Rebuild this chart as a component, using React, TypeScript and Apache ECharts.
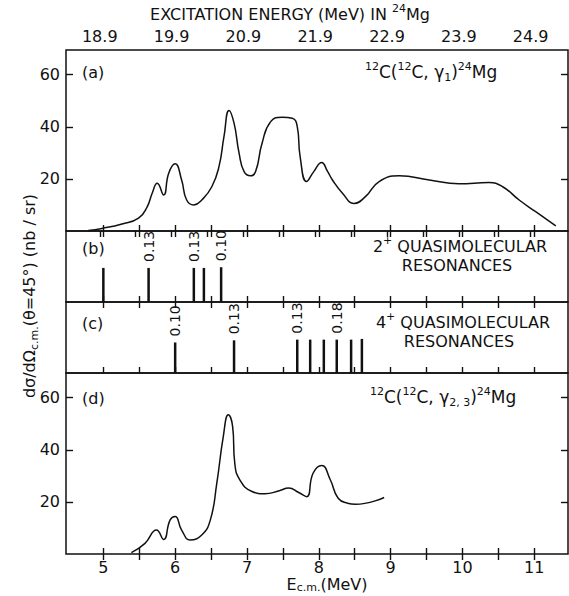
import React, { useEffect, useRef } from "react";
import * as echarts from "echarts";

// ---- axis ticks / labels ----
const ecmTicks = [5, 5.5, 6, 6.5, 7, 7.5, 8, 8.5, 9, 9.5, 10, 10.5, 11];
const ecmLabels = [5, 6, 7, 8, 9, 10, 11];
const excTicks = [18.9, 19.4, 19.9, 20.4, 20.9, 21.4, 21.9, 22.4, 22.9, 23.4, 23.9, 24.4, 24.9];
const excLabels = [18.9, 19.9, 20.9, 21.9, 22.9, 23.9, 24.9];
const yTicks = [20, 40, 60];

// ---- (a) 12C(12C,γ1)24Mg ----
const gamma1X = [4.79, 4.98, 5.26, 5.49, 5.61, 5.68, 5.75, 5.84, 5.91, 6.0, 6.09, 6.16, 6.26, 6.37, 6.51, 6.61, 6.68, 6.75, 6.82, 6.89, 6.96, 7.05, 7.12, 7.21, 7.33, 7.49, 7.63, 7.7, 7.74, 7.83, 7.93, 8.04, 8.12, 8.19, 8.33, 8.49, 8.65, 8.84, 9.12, 9.54, 9.95, 10.37, 10.56, 10.79, 11.02, 11.3];
const gamma1Y = [0.2, 1.0, 2.7, 4.9, 9.3, 14.5, 18.3, 13.8, 22.2, 25.8, 19.6, 11.9, 10.0, 11.9, 17.0, 24.7, 36.3, 46.3, 41.4, 29.9, 22.8, 21.2, 22.8, 33.7, 42.0, 43.7, 43.3, 40.1, 28.6, 19.0, 22.8, 26.3, 23.0, 19.6, 14.5, 10.6, 13.2, 19.0, 21.2, 19.6, 18.1, 18.6, 17.0, 11.9, 7.4, 2.0];

// ---- (b) 2+ quasimolecular resonances ----
const res2X = [5.0, 5.63, 6.26, 6.4, 6.64];
const res2H = [0.48, 0.48, 0.48, 0.48, 0.49];
const res2Labels = ["", "0.13", "0.13", "", "0.10"];

// ---- (c) 4+ quasimolecular resonances ----
const res4X = [6.0, 6.82, 7.7, 7.88, 8.07, 8.25, 8.45, 8.6];
const res4H = [0.43, 0.46, 0.47, 0.47, 0.47, 0.47, 0.47, 0.48];
const res4Labels = ["0.10", "0.13", "0.13", "", "", "0.18", "", ""];

// ---- (d) 12C(12C,γ2,3)24Mg ----
const gamma23X = [5.39, 5.58, 5.74, 5.84, 5.93, 6.0, 6.09, 6.21, 6.37, 6.49, 6.58, 6.67, 6.74, 6.8, 6.83, 6.9, 7.07, 7.25, 7.45, 7.58, 7.72, 7.83, 7.92, 8.04, 8.16, 8.27, 8.4, 8.51, 8.91];
const gamma23Y = [0.5, 4.1, 9.2, 5.6, 13.1, 14.4, 9.2, 5.4, 7.3, 13.1, 27.2, 45.1, 53.5, 49.0, 34.9, 28.5, 24.0, 23.1, 24.3, 25.3, 23.6, 22.0, 31.0, 34.0, 28.5, 21.4, 19.5, 19.1, 21.7];

const X_MIN = 4.48;
const X_MAX = 11.47;
const Y_MAX = 69.5;
const EXC_OFFSET = 13.95;
const FONT = "DejaVu Sans";
const INK = "#111";

const GRID_LEFT = 66;
const GRID_W = 502;
const grids = [
  { top: 50, height: 181 },
  { top: 231, height: 71 },
  { top: 302, height: 71 },
  { top: 373, height: 181 },
];

const tickLine = { color: INK, width: 1.4 };

function xAxisDef(gridIndex: number, position: string, opts: any = {}) {
  const offset = opts.offset || 0;
  return {
    type: "value",
    gridIndex,
    position,
    min: X_MIN + offset,
    max: X_MAX + offset,
    axisLine: { show: false },
    splitLine: { show: false },
    axisTick: {
      show: true,
      inside: true,
      length: 6,
      lineStyle: tickLine,
      customValues: opts.ticks || ecmTicks,
    },
    axisLabel: opts.labels
      ? {
          show: true,
          customValues: opts.labels,
          fontSize: 16,
          fontFamily: FONT,
          color: INK,
          margin: opts.margin ?? 5,
          formatter: opts.formatter,
        }
      : { show: false },
  };
}

function yAxisDef(gridIndex: number, position: string, withLabels: boolean) {
  return {
    type: "value",
    gridIndex,
    position,
    min: 0,
    max: Y_MAX,
    axisLine: { show: false },
    splitLine: { show: false },
    axisTick: { show: true, inside: true, length: 7, lineStyle: tickLine, customValues: yTicks },
    axisLabel: withLabels
      ? { show: true, customValues: yTicks, fontSize: 16, fontFamily: FONT, color: INK, margin: 6 }
      : { show: false },
  };
}

const rich = {
  sup: { fontSize: 11, lineHeight: 11, verticalAlign: "top", fontFamily: FONT, fill: INK },
  sub: { fontSize: 11, lineHeight: 11, verticalAlign: "bottom", fontFamily: FONT, fill: INK },
};

function txt(text: string, x: number, y: number, size: number, align = "left", extra: any = {}, lh = 22) {
  return {
    type: "text",
    x,
    y,
    ...extra,
    style: {
      text,
      fontSize: size,
      fontFamily: FONT,
      fill: INK,
      align,
      verticalAlign: "middle",
      lineHeight: lh,
      rich,
    },
  };
}

function spikeSeries(xs: number[], hs: number[], labels: string[], xi: number, yi: number) {
  return {
    type: "bar",
    xAxisIndex: xi,
    yAxisIndex: yi,
    barWidth: 2.5,
    itemStyle: { color: INK },
    data: xs.map((x, i) => [x, hs[i]]),
    label: {
      show: true,
      position: "top",
      distance: 6,
      rotate: 90,
      align: "left",
      verticalAlign: "middle",
      fontSize: 14,
      fontFamily: FONT,
      color: INK,
      formatter: (p: any) => labels[p.dataIndex],
    },
  };
}

function curveSeries(xs: number[], ys: number[], xi: number, yi: number) {
  return {
    type: "line",
    xAxisIndex: xi,
    yAxisIndex: yi,
    data: xs.map((x, i) => [x, ys[i]]),
    smooth: 0.5,
    symbol: "none",
    lineStyle: { color: INK, width: 1.5 },
  };
}

export default function App() {
  const ref = useRef<HTMLDivElement>(null);
  useEffect(() => {
    if (!ref.current) return;
    const chart = echarts.init(ref.current, null, { renderer: "svg" });
    const option: any = {
      animation: false,
      backgroundColor: "#fff",
      grid: grids.map((g) => ({
        left: GRID_LEFT,
        width: GRID_W,
        top: g.top,
        height: g.height,
        show: true,
        borderColor: INK,
        borderWidth: 1.5,
        backgroundColor: "transparent",
      })),
      xAxis: [
        xAxisDef(0, "bottom"),
        xAxisDef(0, "top", {
          offset: EXC_OFFSET,
          ticks: excTicks,
          labels: excLabels,
          margin: 6,
          formatter: (v: number) => v.toFixed(1),
        }),
        xAxisDef(1, "bottom"),
        xAxisDef(1, "top"),
        xAxisDef(2, "bottom"),
        xAxisDef(2, "top"),
        xAxisDef(3, "bottom", { labels: ecmLabels, margin: 5 }),
        xAxisDef(3, "top"),
      ],
      yAxis: [
        yAxisDef(0, "left", true),
        yAxisDef(0, "right", false),
        { type: "value", gridIndex: 1, min: 0, max: 1, show: false },
        { type: "value", gridIndex: 2, min: 0, max: 1, show: false },
        yAxisDef(3, "left", true),
        yAxisDef(3, "right", false),
      ],
      series: [
        curveSeries(gamma1X, gamma1Y, 0, 0),
        spikeSeries(res2X, res2H, res2Labels, 2, 2),
        spikeSeries(res4X, res4H, res4Labels, 4, 3),
        curveSeries(gamma23X, gamma23Y, 6, 4),
      ],
      graphic: [
        txt("EXCITATION ENERGY (MeV) IN {sup|24}Mg", 290, 14, 16, "center"),
        txt("(a)", 82, 72, 16),
        txt("(b)", 82, 248, 16),
        txt("(c)", 82, 323, 16),
        txt("(d)", 82, 398, 16),
        txt("{sup|12}C({sup|12}C, γ{sub|1}){sup|24}Mg", 365, 72, 17),
        txt("{sup|12}C({sup|12}C, γ{sub|2, 3}){sup|24}Mg", 370, 397, 17),
        txt("2{sup|+} QUASIMOLECULAR", 460, 246, 16, "center"),
        txt("RESONANCES", 457, 265, 16, "center"),
        txt("4{sup|+} QUASIMOLECULAR", 463, 322, 16, "center"),
        txt("RESONANCES", 459, 341, 16, "center"),
        txt("E{sub|c.m.}(MeV)", 327, 584, 16, "center", {}, 18),
        txt("dσ/dΩ{sub|c.m.}(θ=45°) (nb / sr)", 29, 296, 16, "center", { rotation: Math.PI / 2 }),
      ],
    };
    chart.setOption(option);
    return () => chart.dispose();
  }, []);
  return (
    <div
      ref={ref}
      style={{ position: "absolute", left: 0, top: 0, width: 569, height: 596, background: "#fff" }}
    />
  );
}
